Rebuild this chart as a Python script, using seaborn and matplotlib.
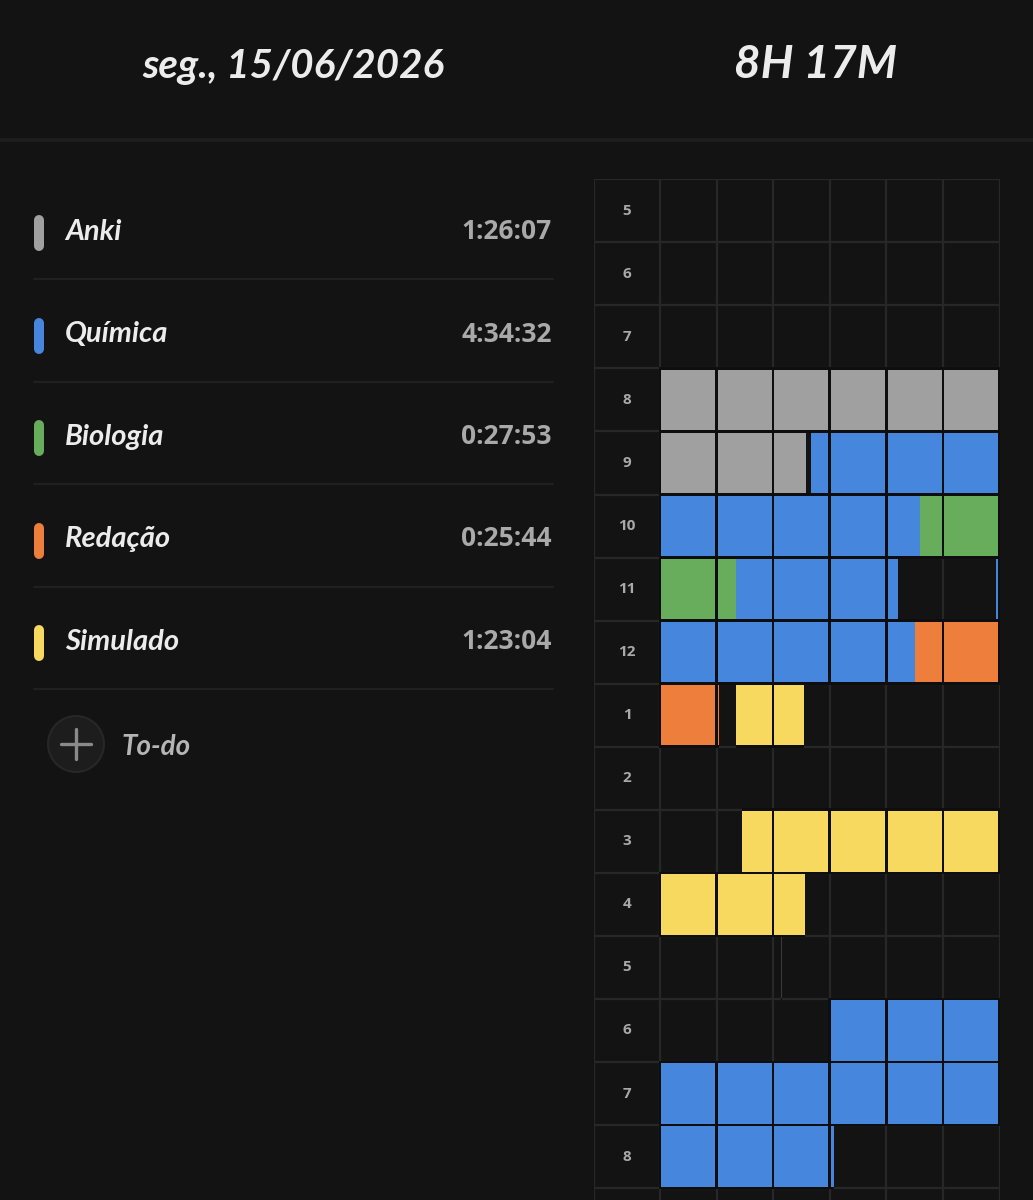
import numpy as np
import seaborn as sns
import matplotlib.pyplot as plt
from matplotlib.patches import Circle

# --- data -------------------------------------------------------------
subjects = ["Anki", "Química", "Biologia", "Redação", "Simulado"]
subject_colors = ["#a0a0a0", "#4686dd", "#67ad5c", "#ee7e3c", "#f6d95e"]
subject_totals = ["1:26:07", "4:34:32", "0:27:53", "0:25:44", "1:23:04"]

hour_labels = ["5", "6", "7", "8", "9", "10", "11", "12",
               "1", "2", "3", "4", "5", "6", "7", "8"]

# sessions, minutes counted from 5:00 (row 0)
seg_subject = ["Anki", "Química", "Biologia", "Química", "Química",
               "Redação", "Redação", "Simulado", "Simulado", "outro", "Química"]
seg_start = [180.0, 266.6, 346.0, 373.5, 419.3,
             465.1, 490.2, 493.5, 614.5, 741.4, 810.0]
seg_end = [265.8, 346.0, 373.5, 402.0, 465.1,
           490.0, 490.5, 505.4, 685.7, 741.6, 930.8]

header_date = "seg., 15/06/2026"
header_total = "8H 17M"

# --- style ------------------------------------------------------------
sns.set_theme(style="dark")
bg = "#131313"
line_col = "#272727"
plt.rcParams["font.family"] = ["Lato", "DejaVu Sans"]

fig = plt.figure(figsize=(10.33, 12), dpi=100, facecolor=bg)

# full-figure axes in pixel units for header + legend list
ax0 = fig.add_axes([0, 0, 1, 1])
ax0.set_xlim(0, 1033)
ax0.set_ylim(1200, 0)
ax0.set_facecolor(bg)
ax0.axis("off")

ax0.text(293, 78, header_date, ha="center", va="baseline", fontsize=29,
         fontweight="bold", style="italic", color="#ececec")
ax0.text(816, 78, header_total, ha="center", va="baseline", fontsize=33,
         fontweight="bold", style="italic", color="#ececec")
ax0.plot([0, 1033], [140, 140], color="#1f1f1f", lw=2.6)

color_of = dict(zip(subjects, subject_colors))
color_of["outro"] = "#3a3a3a"

row_gap = 102.5
for i, (name, col, tot) in enumerate(zip(subjects, subject_colors, subject_totals)):
    yc = 233 + i * row_gap
    ax0.plot([39, 39], [yc - 13, yc + 13], color=col, lw=7.2, solid_capstyle="round")
    ax0.text(65, yc + 7, name, ha="left", va="baseline", fontsize=21,
             fontweight="bold", style="italic", color="#ececec")
    ax0.text(552, yc + 6, tot, ha="right", va="baseline", fontsize=19,
             fontweight="bold", color="#a9a9a9", family=["Open Sans", "DejaVu Sans"])
    ax0.plot([34, 553], [yc + 46, yc + 46], color="#202020", lw=1.6)

ax0.add_patch(Circle((76, 744), 28, facecolor="#1d1d1d", edgecolor="#272727", lw=1.5))
ax0.plot([61, 91], [744, 744], color="#8a8a8a", lw=2.4)
ax0.plot([76, 76], [729, 759], color="#8a8a8a", lw=2.4)
ax0.text(122, 755, "To-do", ha="left", va="baseline", fontsize=20,
         fontweight="bold", style="italic", color="#b5b5b5")

# --- timeline grid ----------------------------------------------------
left_px, right_px, top_px = 594, 999.5, 179.3
row_h = 63.05
col_px = (right_px - 660) / 60.0          # pixels per minute
label_w = (660 - left_px) / col_px        # label column, in minutes
n_rows_vis = (1200 - top_px) / row_h

ax = fig.add_axes([left_px / 1033, 0, (right_px - left_px) / 1033, (1200 - top_px) / 1200])
ax.set_facecolor("none")
ax.set_xlim(-label_w, 60)
ax.set_ylim(n_rows_vis, 0)
ax.axis("off")

ax.vlines([-label_w] + list(range(0, 61, 10)), 0, n_rows_vis, color=line_col, lw=1.6, zorder=1)
ax.hlines(range(0, len(hour_labels) + 1), -label_w, 60, color=line_col, lw=1.6, zorder=1)

for r, lab in enumerate(hour_labels):
    ax.text(-label_w / 2, r + 0.5, lab, ha="center", va="center", fontsize=11,
            fontweight="bold", color="#a9a9a9", family=["Open Sans", "DejaVu Sans"])

dx = 1.3 / col_px
dy = 1.3 / row_h
for subj, s, e in zip(seg_subject, seg_start, seg_end):
    col = color_of[subj]
    # split into 10-minute cells
    bounds = np.unique(np.concatenate([[s, e], np.arange(np.ceil(s / 10) * 10, e, 10)]))
    for a, b in zip(bounds[:-1], bounds[1:]):
        if b - a <= 0:
            continue
        r = int(a // 60)
        a0, b0 = a - r * 60, b - r * 60
        c0 = np.floor(a0 / 10 + 1e-9) * 10
        on_left = abs(a0 - c0) < 1e-6
        on_right = abs(b0 - (c0 + 10)) < 1e-6
        ul = a0 - (dx if on_left else 0)
        ur = b0 + (dx if on_right else 0)
        ax.barh(r + 0.5, ur - ul, left=ul, height=1 + 2 * dy, color="#0e0e0e", lw=0, zorder=2)
        fl = a0 + (dx if on_left else 0)
        fr = b0 - (dx if on_right else 0)
        ax.barh(r + 0.5, max(fr - fl, 0.12), left=fl, height=1 - 2 * dy, color=col, lw=0, zorder=3)

fig.savefig("out.png", dpi=100, facecolor=bg)
